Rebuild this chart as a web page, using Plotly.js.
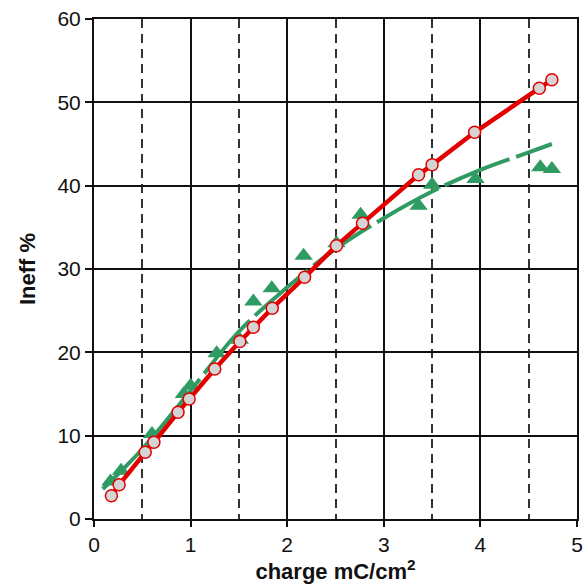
<!DOCTYPE html>
<html>
<head>
<meta charset="utf-8">
<script src="https://cdn.plot.ly/plotly-3.0.1.min.js"></script>
<style>html,body{margin:0;padding:0;background:#fff;}#chart{width:585px;height:584px;}</style>
</head>
<body>
<div id="chart"></div>
<script>
// Red series (circles)
const redX = [0.18, 0.26, 0.53, 0.62, 0.87, 0.985, 1.25, 1.51, 1.65, 1.845, 2.18, 2.51, 2.78, 3.36, 3.50, 3.94, 4.61, 4.74];
const redY = [2.8, 4.1, 8.0, 9.2, 12.8, 14.4, 18.0, 21.3, 23.0, 25.3, 29.0, 32.8, 35.5, 41.3, 42.5, 46.4, 51.7, 52.7];
// Green series (triangles)
const greenX = [0.17, 0.28, 0.60, 0.93, 1.0, 1.27, 1.51, 1.65, 1.84, 2.17, 2.51, 2.76, 3.36, 3.50, 3.95, 4.62, 4.74];
const greenY = [4.5, 5.8, 10.2, 15.0, 16.0, 19.9, 21.5, 26.1, 27.7, 31.6, 33.1, 36.5, 37.6, 40.1, 40.8, 42.2, 42.0];
// Green dashed fit curve
const fitX = [0.09, 0.25, 0.5, 1.0, 1.5, 2.0, 2.5, 3.0, 3.5, 4.0, 4.5, 4.74];
const fitY = [3.6, 5.4, 8.4, 15.4, 22.5, 27.8, 32.4, 36.1, 39.3, 41.9, 44.0, 45.0];
// Tick labels
const xTicks = [0, 1, 2, 3, 4, 5];
const yTicks = [0, 10, 20, 30, 40, 50, 60];

const red = '#e30000';
const green = '#2f9a62';

const traces = [
  {x: fitX, y: fitY, mode: 'lines', line: {color: green, width: 4, dash: '70px,7px', shape: 'spline'}, hoverinfo: 'skip'},
  {x: greenX, y: greenY, mode: 'markers', marker: {symbol: 'triangle-up', size: 16, color: green, line: {width: 0}}},
  {x: redX, y: redY, mode: 'lines+markers', line: {color: red, width: 4.5},
   marker: {symbol: 'circle', size: 12, color: '#d4d4d4', line: {color: red, width: 1.5}}}
];

const tickFont = {family: 'Liberation Sans, Arial, sans-serif', size: 21, color: '#111'};
const titleFont = {family: 'Liberation Sans, Arial, sans-serif', size: 22, color: '#111', weight: 'bold'};

const layout = {
  width: 585, height: 584,
  margin: {l: 94, r: 8, t: 19, b: 65},
  paper_bgcolor: '#fff', plot_bgcolor: '#fff',
  showlegend: false,
  xaxis: {
    range: [0, 5], tickvals: xTicks, ticktext: xTicks.map(String),
    showgrid: true, gridcolor: '#111', gridwidth: 2,
    zeroline: false, showline: true, linecolor: '#111', linewidth: 2, mirror: true,
    ticks: 'outside', ticklen: 6, tickwidth: 2, tickcolor: '#111',
    tickfont: tickFont,
    minor: {dtick: 0.5, tick0: 0, showgrid: true, gridcolor: '#333', gridwidth: 2, griddash: '9px,6px', ticks: ''},
    title: {text: 'charge mC/cm<sup>2</sup>', font: titleFont, standoff: 6}
  },
  yaxis: {
    range: [0, 60], tickvals: yTicks, ticktext: yTicks.map(String),
    showgrid: true, gridcolor: '#111', gridwidth: 2,
    zeroline: false, showline: true, linecolor: '#111', linewidth: 2, mirror: true,
    ticks: 'outside', ticklen: 7, tickwidth: 2, tickcolor: '#111',
    tickfont: tickFont,
    title: {text: 'Ineff %', font: titleFont, standoff: 16}
  }
};

Plotly.newPlot('chart', traces, layout, {displayModeBar: false, staticPlot: true});
</script>
</body>
</html>
